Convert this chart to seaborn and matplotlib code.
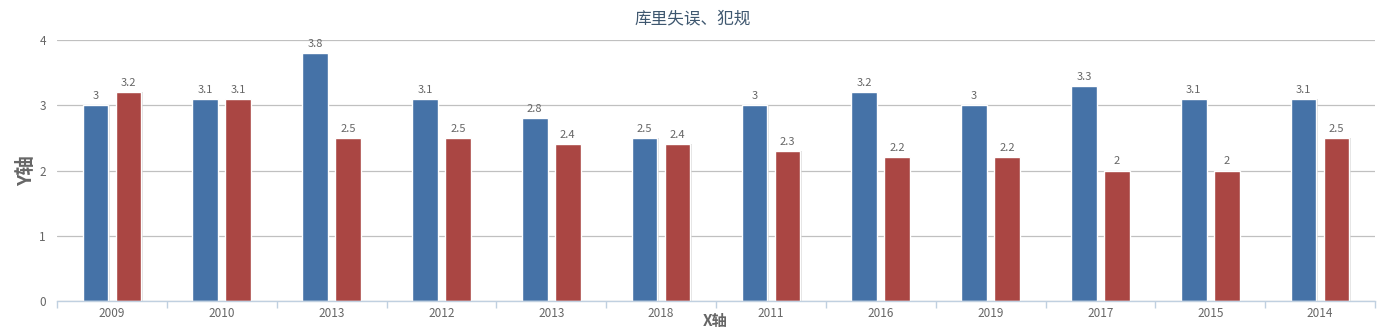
import matplotlib
matplotlib.use("Agg")
import matplotlib.pyplot as plt
import seaborn as sns
import pandas as pd
import numpy as np
from matplotlib.ticker import FixedLocator

categories = ["2009", "2010", "2013", "2012", "2013", "2018", "2011", "2016", "2019", "2017", "2015", "2014"]
turnovers = [3, 3.1, 3.8, 3.1, 2.8, 2.5, 3, 3.2, 3, 3.3, 3.1, 3.1]
fouls = [3.2, 3.1, 2.5, 2.5, 2.4, 2.4, 2.3, 2.2, 2.2, 2, 2, 2.5]
series_names = ["失误", "犯规"]
title = "库里失误、犯规"

sns.set_theme(style="white")
plt.rcParams['font.family'] = ['Noto Sans CJK SC', 'DejaVu Sans']

n = len(categories)
slot = [f"{i}" for i in range(n)]
df = pd.DataFrame({
    "slot": slot * 2,
    "value": turnovers + fouls,
    "series": [series_names[0]] * n + [series_names[1]] * n,
})

fig = plt.figure(figsize=(13.85, 3.31), dpi=100)
ax = fig.add_axes([57/1385, 30/331, 1318/1385, 261/331])

sns.barplot(data=df, x="slot", y="value", hue="series", order=slot,
            hue_order=series_names, palette=["#4572A7", "#AA4643"],
            width=0.6, gap=0.22, edgecolor="white", linewidth=1,
            legend=False, ax=ax, saturation=1)

for c in ax.containers:
    for bar in c:
        ax.add_patch(plt.Rectangle((bar.get_x() + 0.012, 0), bar.get_width(), bar.get_height(),
                                   facecolor="#cccccc", edgecolor="none", zorder=bar.get_zorder() - 0.1, alpha=0.6))
    ax.bar_label(c, labels=[f"{v:g}" for v in c.datavalues], padding=3,
                 fontsize=8, color="#666666")

ax.set_xlim(-0.5, n - 0.5)
ax.set_ylim(0, 4)
ax.set_yticks([0, 1, 2, 3, 4])
ax.yaxis.grid(True, color="#C0C0C0", linewidth=0.9)
ax.set_axisbelow(True)
ax.set_xticks(range(n))
ax.set_xticklabels(categories, fontsize=8.5, color="#666666")
ax.xaxis.set_minor_locator(FixedLocator(np.arange(-0.5, n, 1)))
ax.tick_params(axis="x", which="major", length=0, pad=4)
ax.tick_params(axis="x", which="minor", length=5, color="#C0D0E0", width=1, direction="out", bottom=True)
ax.tick_params(axis="y", length=0, labelsize=8.5, labelcolor="#666666", pad=8)
for s in ["top", "right", "left"]:
    ax.spines[s].set_visible(False)
ax.spines["bottom"].set_color("#C0D0E0")
ax.spines["bottom"].set_linewidth(1)

ax.set_xlabel("X轴", fontsize=11, fontweight="bold", color="#666666")
ax.xaxis.set_label_coords(658/1318, -28/261)
ax.xaxis.label.set_va("bottom")
ax.set_ylabel("Y轴", fontsize=14, fontweight="bold", color="#666666")
ax.yaxis.set_label_coords(-30/1318, 0.5)
ax.yaxis.label.set_va("center")
fig.text(0.5, 1 - 19/331, title, fontsize=12, color="#3E576F", ha="center", va="center")

fig.savefig("out.png", dpi=100)
